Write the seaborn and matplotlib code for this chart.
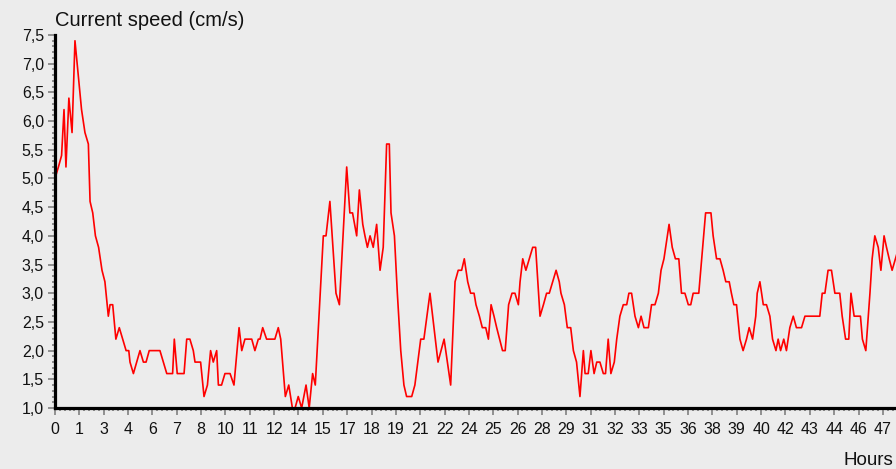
import numpy as np
import pandas as pd
import matplotlib
matplotlib.use("Agg")
import matplotlib.pyplot as plt
import seaborn as sns
from matplotlib.ticker import MultipleLocator, FuncFormatter

# sample number (10 samples per labelled tick) and current speed in cm/s
sample = [0, 1.4, 2.7, 3.7, 4.5, 5.7, 7.0, 8.2, 10.9, 12.3, 13.7, 14.4, 15.5, 16.6, 17.9,
          19.3, 20.5, 21.9, 22.6, 23.7, 25.0, 26.4, 29.2, 30.3, 30.8, 32.2, 34.9, 36.3, 37.4,
          38.7, 43.1, 45.9, 48.3, 49.0, 50.2, 53.0, 54.1, 55.4, 56.8, 57.5, 59.8, 61.2, 62.6,
          63.9, 65.0, 66.4, 67.1, 68.4, 69.8, 71.9, 73.5, 75.6, 76.7, 78.0, 80.8, 82.1, 83.5,
          84.2, 85.3, 86.9, 90.3, 91.7, 92.7, 94.6, 96.0, 97.5, 98.6, 99.9, 101.3, 103.1, 104.4,
          105.8, 106.9, 110.2, 111.3, 112.9, 115.4, 116.8, 119.8, 121.1, 122.2, 123.9, 125.0,
          126.4, 127.3, 128.3, 129.4, 130.7, 132.1, 133.5, 134.8, 136.2, 137.3, 138.0, 139.4,
          140.6, 142.0, 143.3, 144.4, 146.5, 147.8, 150.2, 151.5, 154.0, 155.1, 157.3, 159.8,
          162.5, 164.3, 165.6, 167.0, 168.1, 169.5, 170.7, 172.1, 172.9, 174.3, 175.5, 176.9,
          178.0, 179.1, 180.3, 181.4, 183.8, 184.9, 186.3, 187.7, 188.9, 190.3, 191.0, 192.1,
          193.4, 194.8, 196.2, 197.4, 199.2, 200.6, 201.9, 203.0, 204.4, 205.8, 207.1, 207.8,
          209.2, 210.4, 211.8, 212.9, 214.2, 215.6, 217.0, 217.7, 219.0, 220.1, 221.4, 222.5,
          223.8, 225.2, 226.1, 227.2, 228.3, 229.7, 230.7, 232.0, 233.4, 234.8, 235.7, 236.8,
          238.2, 239.6, 240.7, 241.9, 243.7, 245.0, 246.4, 247.8, 248.9, 250.1, 252.2, 253.5,
          254.8, 256.2, 257.3, 258.7, 260.1, 261.1, 262.1, 264.4, 267.2, 269.4, 270.3, 271.7,
          273.1, 274.4, 275.5, 276.9, 277.8, 278.8, 279.9, 281.3, 282.6, 284.0, 285.1, 286.5,
          287.8, 288.4, 289.5, 290.9, 292.2, 293.6, 294.7, 296.1, 297.0, 298.0, 299.3, 300.4,
          301.8, 303.2, 304.5, 306.6, 308.0, 314.1, 315.1, 316.2, 317.5, 318.9, 320.3, 322.3,
          323.3, 324.7, 326.0, 326.9, 328.2, 330.8, 331.6, 333.0, 334.7, 335.6, 336.7, 338.1,
          339.2, 340.5, 341.5, 342.6, 343.8, 345.2, 346.5]
speed = [5.0, 5.2, 5.4, 6.2, 5.2, 6.4, 5.8, 7.4, 6.2, 5.8, 5.6, 4.6, 4.4, 4.0, 3.8,
         3.4, 3.2, 2.6, 2.8, 2.8, 2.2, 2.4, 2.0, 2.0, 1.8, 1.6, 2.0, 1.8, 1.8,
         2.0, 2.0, 1.6, 1.6, 2.2, 1.6, 1.6, 2.2, 2.2, 2.0, 1.8, 1.8, 1.2, 1.4,
         2.0, 1.8, 2.0, 1.4, 1.4, 1.6, 1.6, 1.4, 2.4, 2.0, 2.2, 2.2, 2.0, 2.2,
         2.2, 2.4, 2.2, 2.2, 2.4, 2.2, 1.2, 1.4, 1.0, 1.0, 1.2, 1.0, 1.4, 1.0,
         1.6, 1.4, 4.0, 4.0, 4.6, 3.0, 2.8, 5.2, 4.4, 4.4, 4.0, 4.8,
         4.2, 4.0, 3.8, 4.0, 3.8, 4.2, 3.4, 3.8, 5.6, 5.6, 4.4, 4.0,
         3.0, 2.0, 1.4, 1.2, 1.2, 1.4, 2.2, 2.2, 3.0, 2.6, 1.8, 2.2,
         1.4, 3.2, 3.4, 3.4, 3.6, 3.2, 3.0, 3.0, 2.8, 2.6, 2.4, 2.4,
         2.2, 2.8, 2.6, 2.4, 2.0, 2.0, 2.8, 3.0, 3.0, 2.8, 3.2, 3.6,
         3.4, 3.6, 3.8, 3.8, 2.6, 2.8, 3.0, 3.0, 3.2, 3.4, 3.2, 3.0,
         2.8, 2.4, 2.4, 2.0, 1.8, 1.2, 2.0, 1.6, 1.6, 2.0, 1.6, 1.8,
         1.8, 1.6, 1.6, 2.2, 1.6, 1.8, 2.2, 2.6, 2.8, 2.8, 3.0, 3.0,
         2.6, 2.4, 2.6, 2.4, 2.4, 2.8, 2.8, 3.0, 3.4, 3.6, 4.2, 3.8,
         3.6, 3.6, 3.0, 3.0, 2.8, 2.8, 3.0, 3.0, 4.4, 4.4, 4.0, 3.6,
         3.6, 3.4, 3.2, 3.2, 3.0, 2.8, 2.8, 2.2, 2.0, 2.2, 2.4, 2.2,
         2.6, 3.0, 3.2, 2.8, 2.8, 2.6, 2.2, 2.0, 2.2, 2.0, 2.2, 2.0,
         2.4, 2.6, 2.4, 2.4, 2.6, 2.6, 3.0, 3.0, 3.4, 3.4, 3.0, 3.0,
         2.6, 2.2, 2.2, 3.0, 2.6, 2.6, 2.2, 2.0, 3.0, 3.6, 4.0, 3.8,
         3.4, 4.0, 3.8, 3.6, 3.4, 3.6, 3.8]
hour_labels = [0, 1, 3, 4, 6, 7, 8, 10, 11, 12, 14, 15, 17, 18, 19, 21, 22, 24, 25, 26,
               28, 29, 31, 32, 33, 35, 36, 38, 39, 40, 42, 43, 44, 46, 47]

df = pd.DataFrame({"sample": sample, "speed": speed})

sns.set_theme(style="white")
plt.rcParams["font.family"] = ["Liberation Sans", "DejaVu Sans"]

bg = "#ececec"
fig = plt.figure(figsize=(8.96, 4.69), dpi=100, facecolor=bg)
ax = fig.add_axes([55 / 896, 61 / 469, 841 / 896, 373 / 469])
ax.set_facecolor(bg)

sns.lineplot(data=df, x="sample", y="speed", color="#ff0000", linewidth=1.2,
             estimator=None, sort=False, ax=ax)

ax.set_xlim(0, 345.4)
ax.set_ylim(1.0, 7.5)
ax.set_xlabel("")
ax.set_ylabel("")

for s in ["top", "right"]:
    ax.spines[s].set_visible(False)
for s in ["left", "bottom"]:
    ax.spines[s].set_color("black")
    ax.spines[s].set_linewidth(2.3)
    ax.spines[s].set_zorder(5)

ax.set_xticks([10 * k for k in range(len(hour_labels))])
ax.set_xticklabels([str(h) for h in hour_labels])
ax.xaxis.set_minor_locator(MultipleLocator(2))
ax.yaxis.set_major_locator(MultipleLocator(0.5))
ax.yaxis.set_minor_locator(MultipleLocator(0.1))
ax.yaxis.set_major_formatter(FuncFormatter(lambda v, p: f"{v:.1f}".replace(".", ",")))

ax.tick_params(which="major", direction="out", length=5, width=1.2, color="#808080",
               labelsize=11.5, labelcolor="#111111", pad=3)
ax.tick_params(which="minor", direction="out", length=2.5, width=1.2, color="#808080")
ax.tick_params(axis="x", which="both", bottom=True)
ax.tick_params(axis="y", which="both", left=True)
ax.tick_params(axis="x", which="major", pad=5)

fig.text(55 / 896, 1 - 26 / 469, "Current speed (cm/s)", fontsize=14.5, color="#111111",
         ha="left", va="baseline")
fig.text(893 / 896, 1 - 465 / 469, "Hours", fontsize=13.5, color="#111111",
         ha="right", va="baseline")

fig.savefig("out.png", dpi=100, facecolor=bg)
